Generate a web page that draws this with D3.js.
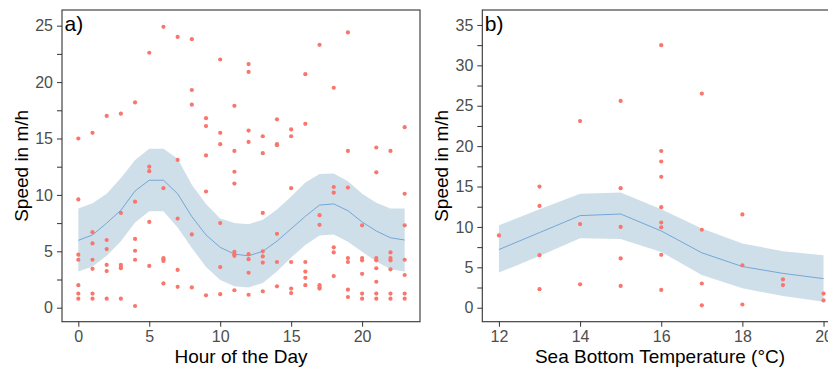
<!DOCTYPE html>
<html>
<head>
<meta charset="utf-8">
<script src="https://cdn.jsdelivr.net/npm/d3@7"></script>
<style>
  body { margin: 0; background: #fff; }
  svg text { font-family: Arial, "Liberation Sans", sans-serif; }
</style>
</head>
<body>
<div id="chart"></div>
<script>
// panel a: speeds observed at each hour (index = hour)
var hours = [0,1,2,3,4,5,6,7,8,9,10,11,12,13,14,15,16,17,18,19,20,21,22,23];
var hourSpeeds = [
  [15.0, 9.6, 4.7, 4.25, 2.0, 1.25, 0.8],
  [15.5, 6.7, 5.7, 4.25, 3.45, 1.25, 0.8],
  [17.0, 6.0, 5.2, 3.8, 3.25, 0.8],
  [17.2, 8.4, 3.8, 3.6, 3.5, 0.8],
  [18.2, 9.4, 6.1, 5.05, 4.25, 0.15],
  [22.6, 12.5, 12.1, 7.6, 3.7],
  [24.9, 10.6, 4.4, 4.3, 4.15, 2.15],
  [24.0, 13.1, 7.9, 3.35, 1.85],
  [23.8, 19.3, 18.0, 6.5, 1.8],
  [16.8, 16.1, 13.5, 10.3, 1.1],
  [22.0, 15.5, 14.5, 7.5, 3.6, 1.2],
  [17.9, 13.9, 12.05, 11.0, 4.95, 4.75, 4.6, 1.55],
  [21.6, 20.9, 15.7, 14.7, 4.75, 4.3, 3.1, 1.15],
  [15.2, 13.7, 8.4, 5.0, 4.55, 4.0, 1.45],
  [16.7, 14.5, 14.4, 6.55, 4.05, 1.9],
  [15.8, 15.2, 10.6, 4.05, 1.7, 1.3],
  [20.7, 16.3, 4.05, 3.2, 2.65, 2.0],
  [23.3, 8.2, 7.35, 2.0, 1.8, 1.7],
  [19.5, 10.7, 10.2, 5.35, 4.9, 2.8],
  [24.4, 13.9, 10.65, 4.4, 4.05, 1.6, 0.95],
  [7.3, 4.4, 4.2, 3.0, 1.25, 0.8],
  [14.2, 12.0, 4.4, 4.2, 3.5, 2.3, 1.25, 0.8],
  [13.9, 4.9, 4.4, 4.2, 3.4, 1.25, 0.8],
  [16.0, 10.1, 7.3, 4.25, 2.9, 1.25, 0.8]
];
var fitA   = [5.97, 6.45, 7.5, 8.64, 10.35, 11.3, 11.3, 10.1, 8.07, 6.45, 5.35, 4.75, 4.6, 5.0, 5.9, 7.0, 8.1, 9.1, 9.2, 8.6, 7.6, 6.8, 6.2, 6.0];
var upperA = [8.8, 9.25, 10.1, 11.5, 13.1, 14.1, 14.1, 13.2, 10.9, 9.2, 7.9, 7.5, 7.4, 7.8, 8.7, 9.85, 11.1, 11.85, 11.9, 11.2, 10.1, 9.3, 8.8, 8.8];
var lowerA = [3.2, 3.65, 4.6, 5.9, 7.55, 8.55, 8.55, 7.1, 5.3, 3.6, 2.45, 1.9, 1.8, 2.2, 3.2, 4.45, 5.55, 6.4, 6.5, 5.85, 4.95, 4.1, 3.4, 3.2];
var hourTicks = [0, 5, 10, 15, 20];
var speedTicksA = [0, 2.5, 5, 7.5, 10, 12.5, 15, 17.5, 20, 22.5, 25];

// panel b: speeds by sea bottom temperature
var temps = [12, 13, 14, 15, 16, 17, 18, 19, 20];
var tempSpeeds = [
  [8.95],
  [15.0, 12.6, 6.5, 2.3],
  [23.1, 10.35, 2.9],
  [25.6, 14.8, 10.0, 6.1, 2.7],
  [32.5, 19.4, 18.1, 16.2, 12.45, 10.55, 9.95, 6.55, 2.2],
  [26.5, 9.65, 3.0, 0.3],
  [11.55, 5.25, 0.4],
  [3.5, 2.8],
  [1.75, 0.9]
];
var fitB   = [7.2, 9.3, 11.4, 11.6, 9.5, 6.8, 5.1, 4.25, 3.6];
var upperB = [10.2, 12.2, 14.1, 14.25, 12.2, 9.8, 7.95, 7.0, 6.5];
var lowerB = [4.35, 6.4, 8.6, 8.5, 6.9, 4.05, 2.4, 1.45, 0.75];
var tempTicks = [12, 14, 16, 18, 20];
var speedTicksB = [0, 2.5, 5, 7.5, 10, 12.5, 15, 17.5, 20, 22.5, 25, 27.5, 30, 32.5, 35];

var width = 828, height = 369;
var svg = d3.select('#chart').append('svg')
  .attr('width', width)
  .attr('height', height);

var draw_panel = function(opt) {
  var x = d3.scaleLinear().domain(opt.xdom).range([opt.left, opt.right]);
  var y = d3.scaleLinear().domain(opt.ydom).range([opt.bottom, opt.top]);
  var g = svg.append('g');

  // confidence band + fitted line
  var band = d3.area()
    .x((d, i) => x(opt.fx[i]))
    .y0((d, i) => y(opt.lower[i]))
    .y1((d, i) => y(opt.upper[i]));
  g.append('path')
    .datum(opt.fit)
    .attr('d', band)
    .attr('fill', '#cfdfe9');
  var line = d3.line()
    .x((d, i) => x(opt.fx[i]))
    .y(d => y(d));
  g.append('path')
    .datum(opt.fit)
    .attr('d', line)
    .attr('fill', 'none')
    .attr('stroke', '#74a7d6')
    .attr('stroke-width', 1);

  // points
  var pts = [];
  opt.groups.forEach((vals, i) => vals.forEach(v => pts.push([opt.fx[i], v])));
  g.selectAll('circle.pt')
    .data(pts)
    .enter()
    .append('circle')
    .attr('class', 'pt')
    .attr('cx', d => x(d[0]))
    .attr('cy', d => y(d[1]))
    .attr('r', 2.1)
    .attr('fill', '#f8766d');

  // axes
  var xAxis = g.append('g')
    .attr('transform', 'translate(0,' + opt.bottom + ')')
    .call(d3.axisBottom(x).tickValues(opt.xticks).tickSize(5).tickSizeOuter(0).tickPadding(4));
  var yAxis = g.append('g')
    .attr('transform', 'translate(' + opt.left + ',0)')
    .call(d3.axisLeft(y).tickValues(opt.yticks).tickSize(5).tickSizeOuter(0).tickPadding(4)
      .tickFormat(d => d % 5 === 0 ? d : ''));
  [xAxis, yAxis].forEach(a => {
    a.select('.domain').remove();
    a.selectAll('line').attr('stroke', '#333');
    a.selectAll('text').attr('fill', '#4d4d4d').style('font-size', '16px');
  });

  // frame
  g.append('rect')
    .attr('x', opt.left).attr('y', opt.top)
    .attr('width', opt.right - opt.left).attr('height', opt.bottom - opt.top)
    .attr('fill', 'none')
    .attr('stroke', '#333')
    .attr('stroke-width', 1.1);

  // titles
  g.append('text')
    .attr('x', opt.left + 2.5).attr('y', opt.top + 21)
    .style('font-size', '21px')
    .attr('fill', '#000')
    .text(opt.tag);
  g.append('text')
    .attr('x', opt.xtitleX).attr('y', 363)
    .attr('text-anchor', 'middle')
    .style('font-size', '19px')
    .text(opt.xtitle);
  g.append('text')
    .attr('transform', 'translate(' + (opt.left - 34) + ',' + ((opt.top + opt.bottom) / 2) + ') rotate(-90)')
    .attr('text-anchor', 'middle')
    .style('font-size', '19px')
    .text('Speed in m/h');
};

draw_panel({
  left: 62, right: 420, top: 10, bottom: 321.7,
  xdom: [-1.15, 24.08], ydom: [-1.24, 26.39],
  fx: hours, groups: hourSpeeds, fit: fitA, upper: upperA, lower: lowerA,
  xticks: hourTicks, yticks: speedTicksA,
  tag: 'a)', xtitle: 'Hour of the Day', xtitleX: 241
});

draw_panel({
  left: 482.3, right: 856, top: 10, bottom: 321.7,
  xdom: [11.59, 20.8], ydom: [-1.73, 36.85],
  fx: temps, groups: tempSpeeds, fit: fitB, upper: upperB, lower: lowerB,
  xticks: tempTicks, yticks: speedTicksB,
  tag: 'b)', xtitle: 'Sea Bottom Temperature (°C)', xtitleX: 660
});
</script>
</body>
</html>
